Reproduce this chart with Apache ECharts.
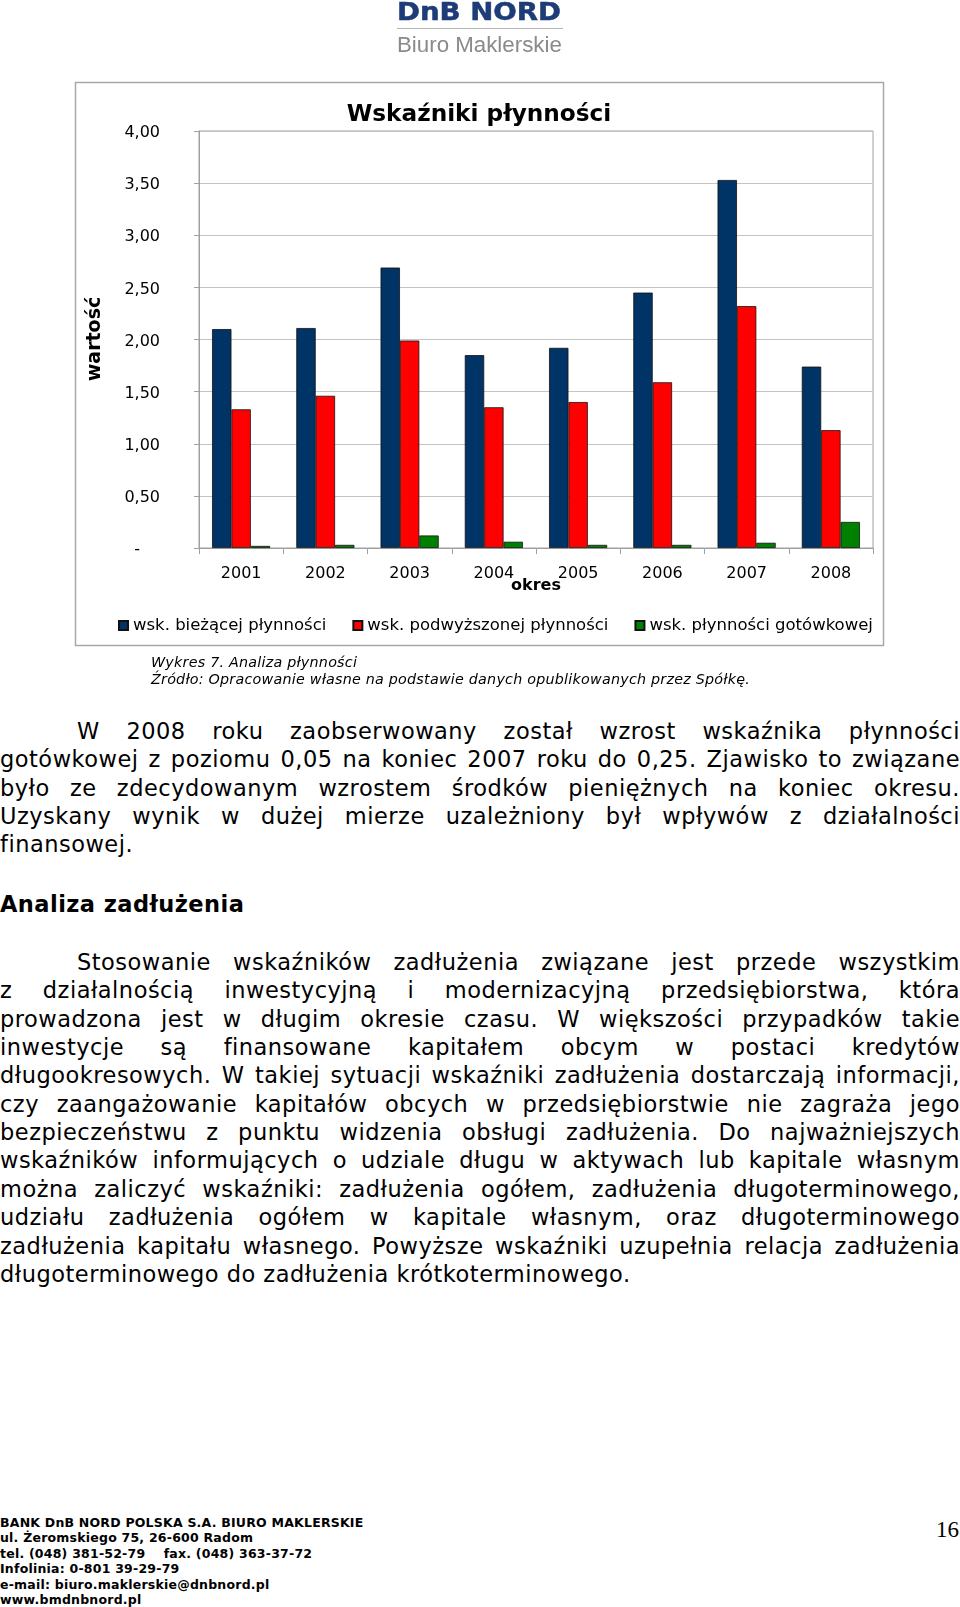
<!DOCTYPE html>
<html>
<head>
<meta charset="utf-8">
<script src="https://cdn.jsdelivr.net/npm/echarts@6/dist/echarts.min.js"></script>
<style>
  html, body { margin:0; padding:0; background:#fff; }
  body { width:960px; height:1607px; position:relative; overflow:hidden; font-family:"DejaVu Sans", Verdana, sans-serif; color:#000; }
  #chart { position:absolute; left:0; top:0; width:960px; height:700px; }
  .abs { position:absolute; white-space:nowrap; }
  .pline { position:absolute; left:0; width:960px; font-size:22.5px; letter-spacing:0.5px; line-height:28px; height:28px; white-space:nowrap; }
  .foot { position:absolute; left:0; font-family:"DejaVu Sans", sans-serif; font-weight:bold; font-size:12.5px; letter-spacing:0.22px; line-height:15px; white-space:nowrap; }
</style>
</head>
<body>
<div id="chart"></div>
<div class="abs" style="left:397px; top:-1.6px; font-family:'DejaVu Sans'; font-weight:bold; font-size:24px; line-height:28px; color:#1d3c78; -webkit-text-stroke:0.5px #1d3c78; transform-origin:0 0; transform:scaleX(1.15);">DnB NORD</div>
<div class="abs" style="left:397px; top:28px; width:166px; height:1px; background:#b4b4b4;"></div>
<div class="abs" style="left:397px; top:31.5px; font-family:'Liberation Sans'; font-size:22.3px; line-height:26px; color:#8a8a8a;">Biuro Maklerskie</div>

<div class="abs" style="left:151px; top:654px; font-family:'DejaVu Sans'; font-style:italic; font-size:14.3px; letter-spacing:0.23px; line-height:17px;">Wykres 7. Analiza płynności<br>Źródło: Opracowanie własne na podstawie danych opublikowanych przez Spółkę.</div>

<div id="text"></div>
<div class="abs" style="left:0; top:890px; font-weight:bold; font-size:22.5px; letter-spacing:0.45px; line-height:28px;">Analiza zadłużenia</div>

<div id="footer"></div>
<div class="abs" style="left:936px; top:1517px; font-family:'Liberation Serif'; font-size:23px; line-height:26px;">16</div>

<script>
// ---------- chart data ----------
const categories = ['2001', '2002', '2003', '2004', '2005', '2006', '2007', '2008'];
const seriesNames = ['wsk. bieżącej płynności', 'wsk. podwyższonej płynności', 'wsk. płynności gotówkowej'];
const currentRatio = [2.10, 2.11, 2.69, 1.85, 1.92, 2.45, 3.53, 1.74];
const quickRatio   = [1.33, 1.46, 1.99, 1.35, 1.40, 1.59, 2.32, 1.13];
const cashRatio    = [0.02, 0.03, 0.12, 0.06, 0.03, 0.03, 0.05, 0.25];
const yTickLabels  = ['-', '0,50', '1,00', '1,50', '2,00', '2,50', '3,00', '3,50', '4,00'];
const chartTitle = 'Wskaźniki płynności';
const yName = 'wartość';
const xName = 'okres';

// ---------- page text ----------
const para1 = [
  'W 2008 roku zaobserwowany został wzrost wskaźnika płynności',
  'gotówkowej z poziomu 0,05 na koniec 2007 roku do 0,25. Zjawisko to związane',
  'było ze zdecydowanym wzrostem środków pieniężnych na koniec okresu.',
  'Uzyskany wynik w dużej mierze uzależniony był wpływów z działalności',
  'finansowej.'
];
const para2 = [
  'Stosowanie wskaźników zadłużenia związane jest przede wszystkim',
  'z działalnością inwestycyjną i modernizacyjną przedsiębiorstwa, która',
  'prowadzona jest w długim okresie czasu. W większości przypadków takie',
  'inwestycje są finansowane kapitałem obcym w postaci kredytów',
  'długookresowych. W takiej sytuacji wskaźniki zadłużenia dostarczają informacji,',
  'czy zaangażowanie kapitałów obcych w przedsiębiorstwie nie zagraża jego',
  'bezpieczeństwu z punktu widzenia obsługi zadłużenia. Do najważniejszych',
  'wskaźników informujących o udziale długu w aktywach lub kapitale własnym',
  'można zaliczyć wskaźniki: zadłużenia ogółem, zadłużenia długoterminowego,',
  'udziału zadłużenia ogółem w kapitale własnym, oraz długoterminowego',
  'zadłużenia kapitału własnego. Powyższe wskaźniki uzupełnia relacja zadłużenia',
  'długoterminowego do zadłużenia krótkoterminowego.'
];
const footerLines = [
  'BANK DnB NORD POLSKA S.A. BIURO MAKLERSKIE',
  'ul. Żeromskiego 75, 26-600 Radom',
  'tel. (048) 381-52-79&nbsp;&nbsp;&nbsp;&nbsp;fax. (048) 363-37-72',
  'Infolinia: 0-801 39-29-79',
  'e-mail: biuro.maklerskie@dnbnord.pl',
  'www.bmdnbnord.pl'
];

function addParagraph(lines, top0, indent) {
  const host = document.getElementById('text');
  lines.forEach((t, i) => {
    const d = document.createElement('div');
    d.className = 'pline';
    d.style.top = (top0 + i * 28.35) + 'px';
    const s = document.createElement('span');
    s.textContent = t;
    if (i === 0) s.style.paddingLeft = indent + 'px';
    d.appendChild(s);
    host.appendChild(d);
    if (i < lines.length - 1) {
      const w = s.getBoundingClientRect().width;
      const spaces = (t.match(/ /g) || []).length;
      if (spaces > 0) s.style.wordSpacing = ((960 - w) / spaces) + 'px';
    }
  });
}
addParagraph(para1, 717, 77);
addParagraph(para2, 948, 77);

const fh = document.getElementById('footer');
footerLines.forEach((t, i) => {
  const d = document.createElement('div');
  d.className = 'foot';
  d.style.top = (1515 + i * 15.4) + 'px';
  d.innerHTML = t;
  fh.appendChild(d);
});

// ---------- chart ----------
const chart = echarts.init(document.getElementById('chart'), null, { renderer: 'canvas' });
const FONT = 'DejaVu Sans';
const colors = ['#003366', '#ff0000', '#008000'];
const option = {
  animation: false,
  color: colors,
  textStyle: { fontFamily: FONT },
  graphic: [
    { type: 'rect', shape: { x: 75.5, y: 82.5, width: 808, height: 563 }, style: { fill: 'none', stroke: '#a8a8a8', lineWidth: 1.5 }, z: 0 },
    { type: 'text', x: 479, y: 115, style: { text: chartTitle, font: 'bold 23.2px "DejaVu Sans"', fill: '#000', textAlign: 'center', textVerticalAlign: 'middle' } },
    { type: 'text', x: 95, y: 339, rotation: Math.PI / 2, style: { text: yName, font: 'bold 19px "DejaVu Sans"', fill: '#000', textAlign: 'center', textVerticalAlign: 'middle' } },
    { type: 'text', x: 536, y: 586, style: { text: xName, font: 'bold 16px "DejaVu Sans"', fill: '#000', textAlign: 'center', textVerticalAlign: 'middle' } }
  ],
  legend: {
    left: 113, top: 612,
    itemWidth: 9, itemHeight: 9, itemGap: 26,
    icon: 'rect',
    textStyle: { fontFamily: FONT, fontSize: 16.5, color: '#000' },
    data: seriesNames
  },
  grid: { left: 199, top: 131, width: 674, height: 417, show: true, borderColor: '#a0a0a0', borderWidth: 1 },
  xAxis: {
    type: 'category', data: categories,
    axisLine: { lineStyle: { color: '#a0a0a0', width: 1 } },
    axisTick: { show: true, length: 6, alignWithLabel: false, lineStyle: { color: '#a0a0a0' } },
    axisLabel: { color: '#000', fontFamily: FONT, fontSize: 16, margin: 18 }
  },
  yAxis: {
    type: 'value', min: 0, max: 4, interval: 0.5,
    axisLine: { show: true, lineStyle: { color: '#a0a0a0' } },
    axisTick: { show: true, length: 5, lineStyle: { color: '#a0a0a0' } },
    splitLine: { lineStyle: { color: '#c4c4c4', width: 1 } },
    axisLabel: {
      color: '#000', fontFamily: FONT, fontSize: 16, margin: 39,
      padding: [4, 0, 0, 0],
      formatter: function (v) {
        const idx = Math.round(v / 0.5);
        return idx === 0 ? '{z|' + yTickLabels[0] + '}' : yTickLabels[idx];
      },
      rich: { z: { fontFamily: FONT, fontSize: 16, color: '#000', padding: [0, 20, 0, 0] } }
    }
  },
  series: [
    { name: seriesNames[0], type: 'bar', data: currentRatio, barGap: '0%', barCategoryGap: '31%', itemStyle: { color: colors[0], borderColor: '#111', borderWidth: 0.8 } },
    { name: seriesNames[1], type: 'bar', data: quickRatio, itemStyle: { color: colors[1], borderColor: '#111', borderWidth: 0.8 } },
    { name: seriesNames[2], type: 'bar', data: cashRatio, itemStyle: { color: colors[2], borderColor: '#111', borderWidth: 0.8 } }
  ]
};
chart.setOption(option);
</script>
</body>
</html>
